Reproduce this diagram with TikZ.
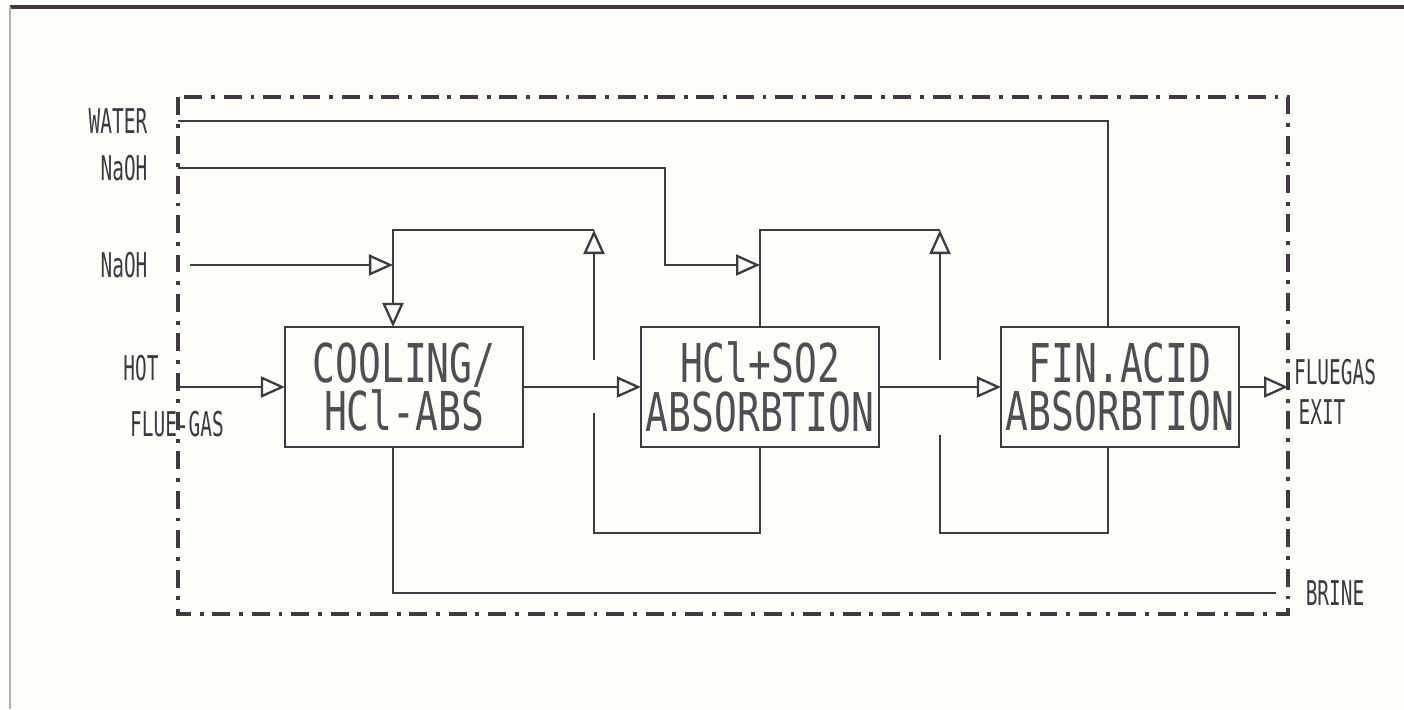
\documentclass[tikz,border=0pt]{standalone}
\usepackage{fontspec}
\usepackage{tikz}
\usetikzlibrary{arrows.meta}
\newfontfamily\plotfont[FakeStretch=0.71]{DejaVu Sans Mono}
\newfontfamily\plotsmall[FakeStretch=0.57]{DejaVu Sans Mono}
\definecolor{paper}{RGB}{253,253,249}
\definecolor{ink}{RGB}{62,58,62}
\tikzset{
    unit/.style={draw=ink, line width=0.7pt, minimum width=2.38cm, minimum height=1.2cm,
        inner sep=0pt, outer sep=0pt, align=center, text=ink!90,
        font=\plotfont\fontsize{15.2}{13.7}\selectfont},
    lbl/.style={inner sep=0pt, text=ink, font=\plotsmall\fontsize{9.7}{11}\selectfont},
    stream/.style={draw=ink, line width=0.65pt},
    feed/.style={stream, -{Triangle[open, length=0.24cm, width=0.21cm]}},
    frame/.style={draw=ink, line width=1.3pt, dash pattern=on 5.1pt off 2.5pt on 1.1pt off 2.5pt}
}

\begin{document}
\begin{tikzpicture}[x=0.01cm, y=-0.01cm]
    \fill[paper] (0,0) rectangle (1404,709);
    \useasboundingbox (0,0) rectangle (1404,709);
    \draw[ink, line width=1.3pt] (10,7) -- (1404,7);
    \draw[ink!40, line width=0.5pt] (10,7) -- (10,709);

    \node[unit] (cool) at (404,387) {COOLING/\\HCl-ABS};
    \node[unit] (hcl) at (760,387) {HCl+SO2\\ABSORBTION};
    \node[unit] (fin) at (1120,387) {FIN.ACID\\ABSORBTION};

    \node[lbl] (water) at (118,121) {WATER};
    \node[lbl] (naohtop) at (124,168) {NaOH};
    \node[lbl] (naohmid) at (124,265) {NaOH};
    \node[lbl] (hot) at (141,368) {HOT};
    \node[lbl] (fluein) at (177,424) {FLUE-GAS};
    \node[lbl] (flueout) at (1335,372) {FLUEGAS};
    \node[lbl] (exit) at (1322,412) {EXIT};
    \node[lbl] (brine) at (1335,593) {BRINE};

    \coordinate (gasin) at (178,387);
    \coordinate (gasout) at (1288,387);
    \coordinate (waterin) at (178,121);
    \coordinate (naohin) at (178,168);
    \coordinate (naohbend) at (665,265);
    \coordinate (mixB) at (760,265);
    \coordinate (naohfeed) at (190,265);
    \coordinate (mixA) at (393,265);
    \coordinate (topA) at (594,230);
    \coordinate (riseA) at (594,360);
    \coordinate (returnA) at (594,413);
    \coordinate (lowA) at (594,533);
    \coordinate (topB) at (940,230);
    \coordinate (riseB) at (940,360);
    \coordinate (returnB) at (940,435);
    \coordinate (lowB) at (940,533);
    \coordinate (brineout) at (1276,593);

    \draw[feed] (gasin) -- (cool.west);
    \draw[feed] (cool.east) -- (hcl.west);
    \draw[feed] (hcl.east) -- (fin.west);
    \draw[feed] (fin.east) -- (gasout);

    \draw[stream] (waterin) -| ([xshift=-0.12cm]fin.north);
    \draw[feed] (naohin) -| (naohbend) -- (mixB);
    \draw[feed] (naohfeed) -- (mixA);

    \draw[feed] (riseA) -- (topA);
    \draw[feed] (topA) -| ([xshift=-0.11cm]cool.north);
    \draw[stream] (hcl.south) |- (lowA) -- (returnA);

    \draw[feed] (riseB) -- (topB);
    \draw[stream] (topB) -| (hcl.north);
    \draw[stream] ([xshift=-0.12cm]fin.south) |- (lowB) -- (returnB);

    \draw[stream] ([xshift=-0.11cm]cool.south) |- (brineout);

    \draw[frame] (178,97) rectangle (1288,614);
\end{tikzpicture}
\end{document}
